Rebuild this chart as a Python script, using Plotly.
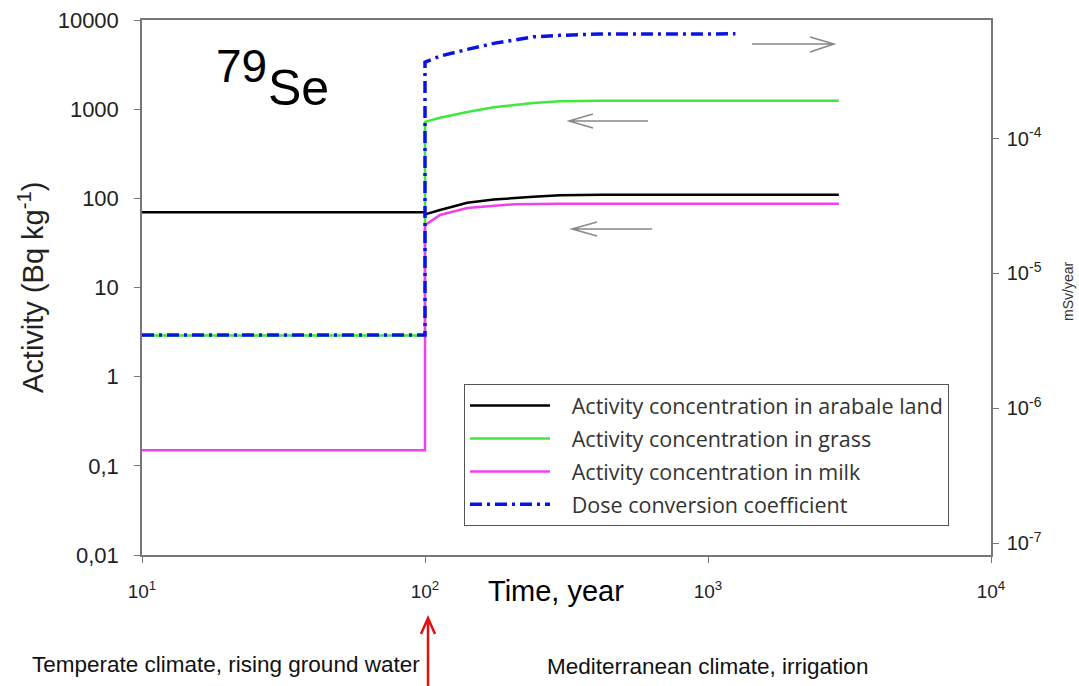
import plotly.graph_objects as go

# ---- data ----
arable_years = [10, 100, 100, 113, 141, 175, 241, 300, 420, 2900]
arable_vals = [70, 70, 66, 74, 89, 97, 104, 108, 110, 110]

grass_years = [10, 100, 100, 113, 141, 175, 241, 300, 420, 2900]
grass_vals = [2.9, 2.9, 720, 800, 930, 1050, 1170, 1230, 1240, 1240]

milk_years = [10, 100, 100, 113, 141, 175, 208, 300, 2900]
milk_vals = [0.15, 0.15, 50, 65, 78, 83, 86, 87, 87]

dose_years = [10, 100, 100, 113, 141, 175, 241, 300, 415, 600, 1250]
dose_vals = [3.5e-6, 3.5e-6, 3.7e-4, 4.1e-4, 4.6e-4, 5.1e-4, 5.7e-4, 5.85e-4, 5.98e-4, 6.0e-4, 6.0e-4]

x_ticks = [10, 100, 1000, 10000]
x_ticktext = ["10<sup>1</sup>", "10<sup>2</sup>", "10<sup>3</sup>", "10<sup>4</sup>"]
left_ticks = [0.01, 0.1, 1, 10, 100, 1000, 10000]
left_ticktext = ["0,01", "0,1", "1", "10", "100", "1000", "10000"]
right_ticks = [1e-7, 1e-6, 1e-5, 1e-4]
right_ticktext = ["10<sup>-7</sup>", "10<sup>-6</sup>", "10<sup>-5</sup>", "10<sup>-4</sup>"]

# ---- layout geometry (pixels) ----
W, H = 1079, 686
L, R, T, B = 142, 991, 20, 555  # plot area


def px(x):
    return (x - L) / (R - L)


def py(y):
    return (B - y) / (B - T)


fig = go.Figure()
fig.add_trace(go.Scatter(x=arable_years, y=arable_vals, mode="lines", legendgroup="a",
                         name="   Activity concentration in arabale land",
                         line=dict(color="#000000", width=2.5)))
fig.add_trace(go.Scatter(x=grass_years, y=grass_vals, mode="lines", legendgroup="g",
                         name="   Activity concentration in grass",
                         line=dict(color="#3ee83e", width=2.5)))
fig.add_trace(go.Scatter(x=milk_years, y=milk_vals, mode="lines", legendgroup="m",
                         name="   Activity concentration in milk",
                         line=dict(color="#f040f0", width=2.5)))
fig.add_trace(go.Scatter(x=dose_years, y=dose_vals, mode="lines", yaxis="y2", legendgroup="d",
                         name="   Dose conversion coefficient",
                         line=dict(color="#0a14e0", width=3.5, dash="12px,5px,3px,5px")))

fig.update_layout(
    width=W, height=H,
    margin=dict(l=L, r=W - R, t=T, b=H - B, autoexpand=False),
    paper_bgcolor="white", plot_bgcolor="white",
    showlegend=True,
    legend=dict(x=px(464), y=py(384), xanchor="left", yanchor="top",
                bgcolor="white", bordercolor="#555", borderwidth=1,
                font=dict(family="Open Sans", size=21.5, color="#333"),
                itemwidth=80, tracegroupgap=2),
    xaxis=dict(type="log", range=[1, 4], tickvals=x_ticks, ticktext=x_ticktext,
               showline=True, linecolor="#777", linewidth=1.5, mirror=True,
               ticks="outside", ticklen=6, tickcolor="#777",
               ticklabelstandoff=12, automargin=False,
               showgrid=False, zeroline=False,
               tickfont=dict(family="Liberation Sans", size=19, color="#222")),
    yaxis=dict(type="log", range=[-2, 4], tickvals=left_ticks, ticktext=left_ticktext,
               showline=True, linecolor="#777", linewidth=1.5,
               ticks="outside", ticklen=6, tickcolor="#777",
               ticklabelstandoff=11, automargin=False,
               showgrid=False, zeroline=False,
               tickfont=dict(family="Liberation Sans", size=22, color="#222")),
    yaxis2=dict(type="log", overlaying="y", side="right",
                range=[-7.089, -3.119], tickvals=right_ticks, ticktext=right_ticktext,
                showline=True, linecolor="#777", linewidth=1.5,
                ticks="outside", ticklen=6, tickcolor="#777",
                ticklabelstandoff=4, automargin=False,
                showgrid=False, zeroline=False,
                tickfont=dict(family="Liberation Sans", size=20, color="#222")),
)

annotations = [
    dict(text="79", x=px(214), y=py(38), xanchor="left", yanchor="top",
         font=dict(family="Liberation Sans", size=46, color="black")),
    dict(text="Se", x=px(266), y=py(58), xanchor="left", yanchor="top",
         font=dict(family="Liberation Sans", size=50, color="black")),
    dict(text="Time, year", x=px(556), y=py(591), xanchor="center", yanchor="middle",
         font=dict(family="Liberation Sans", size=29, color="black")),
    dict(text="Activity (Bq kg<sup>-1</sup>)", x=px(31), y=py(287), textangle=-90,
         xanchor="center", yanchor="middle",
         font=dict(family="Liberation Sans", size=29, color="#222")),
    dict(text="mSv/year", x=px(1068), y=py(292), textangle=-90,
         xanchor="center", yanchor="middle",
         font=dict(family="Liberation Sans", size=14, color="#333")),
    dict(text="Temperate climate, rising ground water", x=px(30), y=py(664),
         xanchor="left", yanchor="middle",
         font=dict(family="Liberation Sans", size=22.5, color="#111")),
    dict(text="Mediterranean climate, irrigation", x=px(545), y=py(666),
         xanchor="left", yanchor="middle",
         font=dict(family="Liberation Sans", size=22.5, color="#111")),
]
for a in annotations:
    a.update(xref="paper", yref="paper", showarrow=False)
fig.update_layout(annotations=annotations)


def pth(points_list):
    s = ""
    for pts in points_list:
        s += "M " + " L ".join(f"{px(x):.5f},{py(y):.5f}" for x, y in pts) + " "
    return s.strip()


gray = dict(color="#888", width=1.5)
shapes = [
    dict(type="path", path=pth([[(752, 44), (834, 44)], [(810, 37), (834, 44), (810, 52)]]), line=gray),
    dict(type="path", path=pth([[(648, 121), (569, 121)], [(593, 114), (569, 121), (593, 128)]]), line=gray),
    dict(type="path", path=pth([[(652, 229), (572, 229)], [(597, 222), (572, 229), (597, 236)]]), line=gray),
    dict(type="path", path=pth([[(428, 690), (428, 618)], [(421, 634), (428, 618), (435, 634)]]),
         line=dict(color="#e01010", width=2.5)),
]
for s in shapes:
    s.update(xref="paper", yref="paper")
fig.update_layout(shapes=shapes)

fig.write_html("out.html", config={"displayModeBar": False},
               post_script="document.body.style.margin='0px';document.body.style.overflow='hidden';")
